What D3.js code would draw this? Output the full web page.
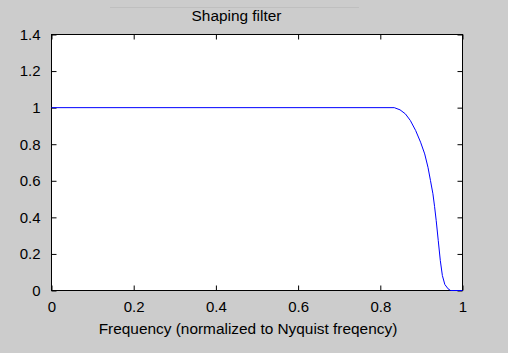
<!DOCTYPE html>
<html>
<head>
<meta charset="utf-8">
<script src="https://cdn.jsdelivr.net/npm/d3@7"></script>
<style>
  html, body { margin: 0; padding: 0; background: #cccccc; }
  svg { display: block; }
  text { font-family: "Liberation Sans", Arial, sans-serif; font-size: 15px; fill: #000; }
  text.label { font-size: 15.4px; }
</style>
</head>
<body>
<script>
// values
var freq = [0, 0.834, 0.848, 0.861, 0.873, 0.886, 0.898, 0.908, 0.916, 0.922, 0.928,
            0.932, 0.936, 0.941, 0.946, 0.951, 0.957, 0.965, 0.971, 1.0];
var mag  = [1, 1, 0.988, 0.966, 0.930, 0.875, 0.811, 0.747, 0.674, 0.602, 0.529,
            0.46, 0.383, 0.273, 0.164, 0.082, 0.033, 0.009, 0, 0];
var xTicks = [0, 0.2, 0.4, 0.6, 0.8, 1];
var yTicks = [0, 0.2, 0.4, 0.6, 0.8, 1, 1.2, 1.4];

var width = 508, height = 353;
var plotLeft = 51.5, plotRight = 462.5, plotTop = 34.5, plotBottom = 290.5;

var svg = d3.select("body").append("svg")
    .attr("width", width)
    .attr("height", height);

// faint line above the title
svg.append("line")
    .attr("x1", 110).attr("x2", 359)
    .attr("y1", 7.5).attr("y2", 7.5)
    .attr("stroke", "#bfbfbf");

var x = d3.scaleLinear().domain([0, 1]).range([plotLeft, plotRight]);
var y = d3.scaleLinear().domain([0, 1.4]).range([plotBottom, plotTop]);

// plot area
svg.append("rect")
    .attr("x", plotLeft).attr("y", plotTop)
    .attr("width", plotRight - plotLeft).attr("height", plotBottom - plotTop)
    .attr("fill", "#fff").attr("stroke", "#000");

// axes, ticks pointing inward on all four sides
function styleAxis(g) {
    g.attr("font-family", null).attr("font-size", null);
    g.select(".domain").remove();
    g.selectAll("line").attr("stroke", "#000");
    g.selectAll("text").attr("fill", "#000");
}

svg.append("g")
    .attr("transform", "translate(0," + plotBottom + ")")
    .call(d3.axisBottom(x).tickValues(xTicks).tickSize(-5).tickPadding(11).tickFormat(d3.format("")))
    .call(styleAxis);

svg.append("g")
    .attr("transform", "translate(0," + plotTop + ")")
    .call(d3.axisTop(x).tickValues(xTicks).tickSize(-5).tickFormat(""))
    .call(styleAxis);

svg.append("g")
    .attr("transform", "translate(" + plotLeft + ",0)")
    .call(d3.axisLeft(y).tickValues(yTicks).tickSize(-5).tickPadding(11).tickFormat(d3.format("")))
    .call(styleAxis);

svg.append("g")
    .attr("transform", "translate(" + plotRight + ",0)")
    .call(d3.axisRight(y).tickValues(yTicks).tickSize(-5).tickFormat(""))
    .call(styleAxis);

// curve
var line = d3.line()
    .x(function(d, i) { return x(freq[i]); })
    .y(function(d) { return y(d); });

svg.append("path")
    .datum(mag)
    .attr("d", line)
    .attr("fill", "none")
    .attr("stroke", "#0000ff")
    .attr("stroke-width", 1);

// titles
svg.append("text")
    .attr("class", "label")
    .attr("x", 236.5).attr("y", 20.5)
    .attr("text-anchor", "middle")
    .text("Shaping filter");

svg.append("text")
    .attr("class", "label")
    .attr("x", 248).attr("y", 334)
    .attr("text-anchor", "middle")
    .text("Frequency (normalized to Nyquist freqency)");
</script>
</body>
</html>
